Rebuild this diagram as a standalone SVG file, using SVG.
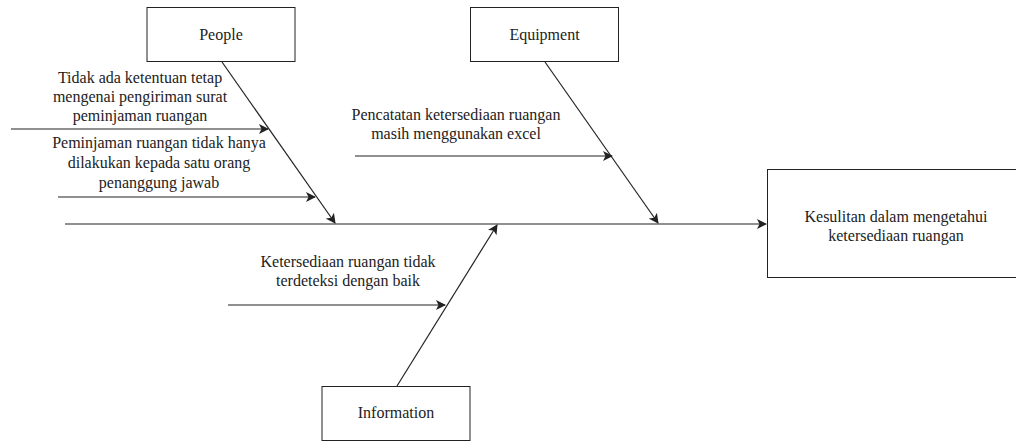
<svg xmlns="http://www.w3.org/2000/svg" width="1016" height="441" viewBox="0 0 1016 441">
<style>
.box{fill:#fff;stroke:#222;stroke-width:1}
.ln{fill:none;stroke:#222;stroke-width:1.2}
.t{font-family:'Liberation Serif','Times New Roman',Times,serif;font-size:16px;fill:#222;text-anchor:middle}
</style>
<defs>
<marker id="arr" viewBox="0 0 10 10" refX="9" refY="5" markerWidth="10" markerHeight="10" markerUnits="userSpaceOnUse" orient="auto">
<path d="M0,0 L10,5 L0,10 L2.5,5 Z" fill="#222"/>
</marker>
</defs>
<g id="connectors">
<line class="ln" x1="65" y1="224" x2="766" y2="224" marker-end="url(#arr)"/>
<line class="ln" x1="222" y1="62" x2="335" y2="223" marker-end="url(#arr)"/>
<line class="ln" x1="545" y1="62" x2="658" y2="223" marker-end="url(#arr)"/>
<line class="ln" x1="397" y1="386" x2="497" y2="225" marker-end="url(#arr)"/>
<line class="ln" x1="11" y1="129" x2="268" y2="129" marker-end="url(#arr)"/>
<line class="ln" x1="58" y1="197" x2="315" y2="197" marker-end="url(#arr)"/>
<line class="ln" x1="355" y1="156" x2="612" y2="156" marker-end="url(#arr)"/>
<line class="ln" x1="228" y1="305" x2="445" y2="305" marker-end="url(#arr)"/>
</g>
<g id="people" class="t">
<rect class="box" x="147" y="7.5" width="148" height="54"/>
<text x="221" y="40">People</text>
</g>
<g id="equipment" class="t">
<rect class="box" x="470.5" y="7.5" width="148" height="54"/>
<text x="544.5" y="40">Equipment</text>
</g>
<g id="information" class="t">
<rect class="box" x="322" y="386.5" width="148" height="54"/>
<text x="396" y="418">Information</text>
</g>
<g id="effect" class="t">
<rect class="box" x="767.5" y="169.5" width="258" height="108"/>
<text x="896" y="222">Kesulitan dalam mengetahui</text>
<text x="896" y="241">ketersediaan ruangan</text>
</g>
<g id="cause1" class="t">
<text x="140" y="83">Tidak ada ketentuan tetap</text>
<text x="140" y="102">mengenai pengiriman surat</text>
<text x="140" y="121">peminjaman ruangan</text>
</g>
<g id="cause2" class="t">
<text x="159" y="148">Peminjaman ruangan tidak hanya</text>
<text x="159" y="168">dilakukan kepada satu orang</text>
<text x="159" y="188">penanggung jawab</text>
</g>
<g id="cause3" class="t">
<text x="456" y="120">Pencatatan ketersediaan ruangan</text>
<text x="456" y="139">masih menggunakan excel</text>
</g>
<g id="cause4" class="t">
<text x="348" y="267">Ketersediaan ruangan tidak</text>
<text x="348" y="286">terdeteksi dengan baik</text>
</g>
</svg>
